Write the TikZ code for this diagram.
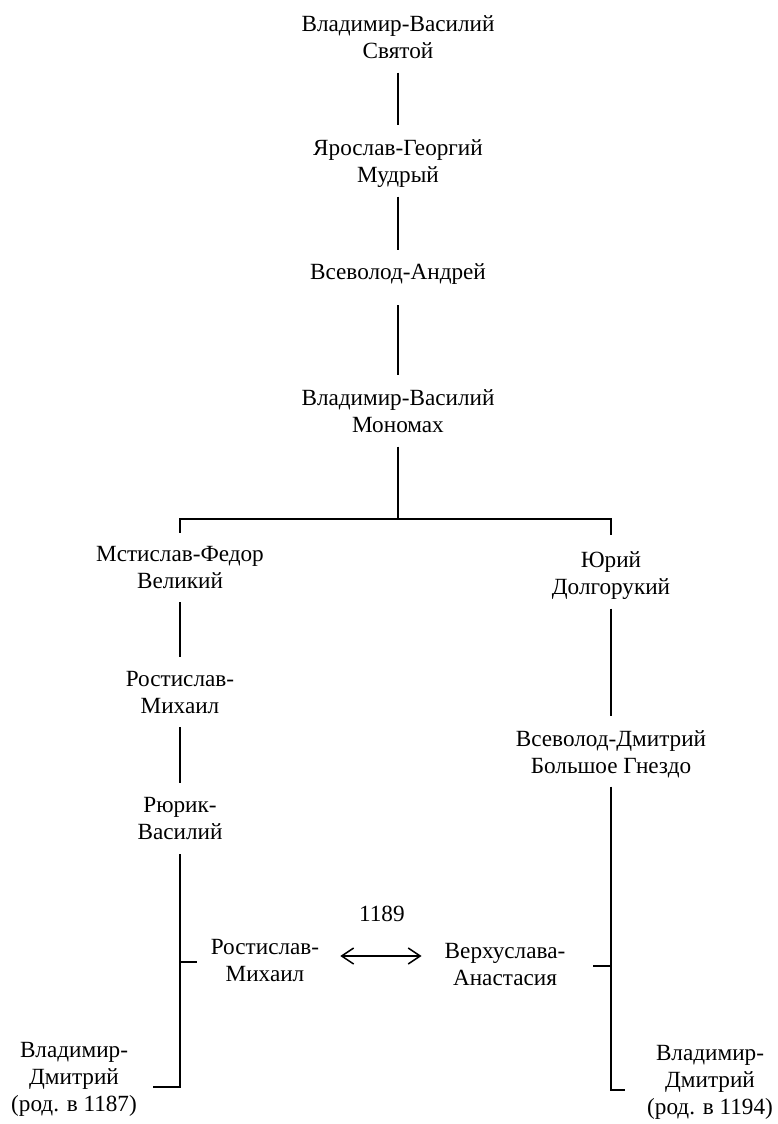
\documentclass[tikz,border=0pt]{standalone}
\usepackage{fontspec}
\setmainfont{Liberation Serif}
\usetikzlibrary{positioning, arrows.meta}

\begin{document}
\begin{tikzpicture}[
    x=1pt, y=-1pt,
    >={Straight Barb[length=12pt, width=16pt]},
    on grid,
    person/.style={
        align=center,
        inner sep=0pt,
        text depth=4pt,
        font=\fontsize{23.2}{26.8}\selectfont
    },
    year/.style={
        inner sep=0pt,
        font=\fontsize{23.2}{26.8}\selectfont
    },
    link/.style={
        line width=1.5pt,
        shorten <=10pt,
        shorten >=14pt
    },
    tree/.style={
        line width=1.5pt
    }
]
    \useasboundingbox (0,0) rectangle (777,1124);

    % === Поколения ===
    \node[person] (vladimir) at (398,39) {Владимир-Василий\\Святой};
    \node[person, below=124pt of vladimir] (yaroslav) {Ярослав-Георгий\\Мудрый};
    \node[person, below=111pt of yaroslav] (vsevolod) {Всеволод-Андрей};
    \node[person, below=139pt of vsevolod] (monomakh) {Владимир-Василий\\Мономах};
    \coordinate[below=106pt of monomakh] (fork);
    \node[person, below left=156pt and 218pt of monomakh] (mstislav) {Мстислав-Федор\\Великий};
    \node[person, below right=162pt and 213pt of monomakh] (yurij) {Юрий\\Долгорукий};
    \node[person, below=125pt of mstislav] (rostislav) {Ростислав-\\Михаил};
    \node[person, below=126pt of rostislav] (rurik) {Рюрик-\\Василий};
    \node[person, below=179pt of yurij] (vsevolodB) {Всеволод-Дмитрий\\Большое Гнездо};
    \node[person, below right=142pt and 85pt of rurik] (rostislavB) {Ростислав-\\Михаил};
    \node[person, below left=212pt and 106pt of vsevolodB] (verkhuslava) {Верхуслава-\\Анастасия};
    \node[person, below left=259pt and 106pt of rurik] (vladimirA) {Владимир-\\Дмитрий\\(род. в 1187)};
    \node[person, below right=328pt and 99pt of vsevolodB] (vladimirB) {Владимир-\\Дмитрий\\(род. в 1194)};

    % === Линии родства ===
    \path[link]
        (vladimir) edge (yaroslav)
        (yaroslav) edge (vsevolod)
        (vsevolod) edge[shorten <=21pt] (monomakh)
        (mstislav) edge (rostislav)
        (rostislav) edge (rurik)
        (yurij) edge (vsevolodB);

    \draw[tree] ([yshift=-10pt]monomakh.south) -- (fork);
    \draw[tree] ([yshift=13pt]mstislav.north) |- (fork) -| ([yshift=16pt]yurij.north);

    \draw[tree] ([yshift=-11pt]rurik.south) |- ([xshift=16pt, yshift=-8pt]vladimirA.east);
    \draw[tree] (rurik.south |- rostislavB.west) -- ++(17,0);

    \draw[tree] ([yshift=-9pt]vsevolodB.south) |- ([xshift=-22pt, yshift=-8pt]vladimirB.west);
    \draw[tree] (vsevolodB.south |- verkhuslava.east) -- ++(-18,0);

    % === Брак ===
    \coordinate (marriage) at ([yshift=6pt]rostislavB.east);
    \draw[tree, <->, shorten <=21pt, shorten >=23pt]
        (marriage) -- (marriage -| verkhuslava.west)
        node[year, midway, above=34pt] {1189};

\end{tikzpicture}
\end{document}
